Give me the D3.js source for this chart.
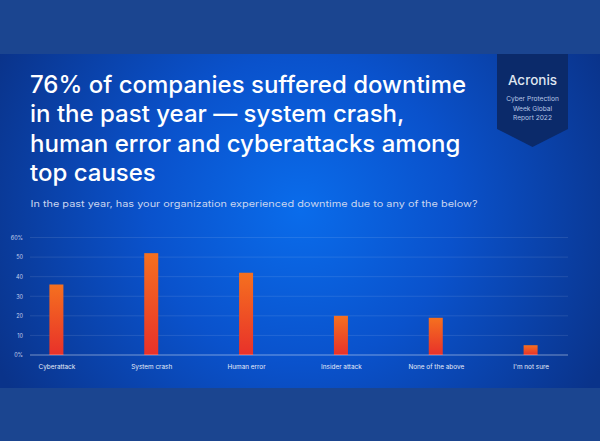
<!DOCTYPE html>
<html>
<head>
<meta charset="UTF-8">
<script src="https://d3js.org/d3.v7.min.js"></script>
<style>
  body { margin: 0; background: #1b4590; }
  svg { display: block; }
  text { font-family: Inter, "Noto Sans", sans-serif; }
</style>
</head>
<body>
<svg width="600" height="441"></svg>
<script>
// data
const categories = ["Cyberattack", "System crash", "Human error", "Insider attack", "None of the above", "I'm not sure"];
const values = [36, 52, 42, 20, 19, 5];
const yTicks = [0, 10, 20, 30, 40, 50, 60];
const titleLines = ["76% of companies suffered downtime", "in the past year \u2014 system crash,", "human error and cyberattacks among", "top causes"];
const subtitle = "In the past year, has your organization experienced downtime due to any of the below?";
const badgeLines = ["Cyber Protection", "Week Global", "Report 2022"];

const svg = d3.select("svg");
const defs = svg.append("defs");

const bg = defs.append("radialGradient").attr("id", "bg")
  .attr("gradientUnits", "userSpaceOnUse")
  .attr("cx", 300).attr("cy", 210).attr("r", 340);
bg.append("stop").attr("offset", 0).attr("stop-color", "#0a6ceb");
bg.append("stop").attr("offset", 0.45).attr("stop-color", "#0a52cc");
bg.append("stop").attr("offset", 1).attr("stop-color", "#0a338a");

const barGrad = defs.append("linearGradient").attr("id", "bar")
  .attr("x1", 0).attr("y1", 0).attr("x2", 0).attr("y2", 1);
barGrad.append("stop").attr("offset", 0).attr("stop-color", "#f5701f");
barGrad.append("stop").attr("offset", 1).attr("stop-color", "#e8312a");

// bands
svg.append("rect").attr("width", 600).attr("height", 441).attr("fill", "#1b4590");
svg.append("rect").attr("y", 54).attr("width", 600).attr("height", 334).attr("fill", "url(#bg)");

// badge
const bx = 497, bw = 71;
svg.append("path")
  .attr("d", `M${bx},54 H${bx + bw} V129 L${bx + bw / 2},147 L${bx},129 Z`)
  .attr("fill", "#0b2a6a");
svg.append("text").attr("x", bx + bw / 2).attr("y", 84.5)
  .attr("text-anchor", "middle").attr("fill", "#dfe5f0")
  .attr("font-size", 13.5).attr("font-weight", 500).text("Acronis");
svg.append("g").selectAll("text").data(badgeLines).join("text")
  .attr("x", bx + bw / 2).attr("y", (d, i) => 101 + i * 9.6)
  .attr("text-anchor", "middle").attr("fill", "#b7c6e6")
  .attr("font-size", 6.6).text(d => d);

// title
svg.append("g").selectAll("text").data(titleLines).join("text")
  .attr("x", 30).attr("y", (d, i) => 92.5 + i * 29.6)
  .attr("fill", "#ffffff").attr("font-size", 24).attr("font-weight", 500)
  .text(d => d);

svg.append("text").attr("x", 30.5).attr("y", 206.5)
  .attr("fill", "#c9d5ef").attr("font-size", 9)
  .attr("textLength", 447).attr("lengthAdjust", "spacingAndGlyphs")
  .text(subtitle);

// chart
const x = d3.scalePoint().domain(categories).range([56.4, 530.6]);
const y = d3.scaleLinear().domain([0, 60]).range([355, 237.5]);
const barW = 14;

const grid = svg.append("g");
grid.selectAll("line").data(yTicks.filter(d => d > 0)).join("line")
  .attr("x1", 30).attr("x2", 568)
  .attr("y1", d => y(d)).attr("y2", d => y(d))
  .attr("stroke", "#ffffff").attr("stroke-opacity", 0.13).attr("stroke-width", 0.8);

const yAxis = svg.append("g").attr("transform", "translate(23,0)")
  .call(d3.axisLeft(y).tickValues(yTicks).tickSize(0).tickPadding(0)
    .tickFormat(d => (d === 0 || d === 60) ? d + "%" : d));
yAxis.select(".domain").remove();
yAxis.selectAll("text").attr("fill", "#c4d0ec").attr("font-size", 5.5)
  .attr("font-family", "Inter, 'Noto Sans', sans-serif");

svg.append("g").selectAll("rect").data(values).join("rect")
  .attr("x", (d, i) => x(categories[i]) - barW / 2)
  .attr("y", d => y(d))
  .attr("width", barW)
  .attr("height", d => y(0) - y(d))
  .attr("fill", "url(#bar)");

const xAxis = svg.append("g").attr("transform", `translate(0,${y(0)})`)
  .call(d3.axisBottom(x).tickSize(0).tickPadding(9));
xAxis.select(".domain").attr("d", "M30,0H568")
  .attr("stroke", "#ffffff").attr("stroke-opacity", 0.5).attr("stroke-width", 0.9);
xAxis.selectAll("text").attr("fill", "#e6ecf8").attr("font-size", 6.4)
  .attr("font-family", "Inter, 'Noto Sans', sans-serif");
</script>
</body>
</html>
